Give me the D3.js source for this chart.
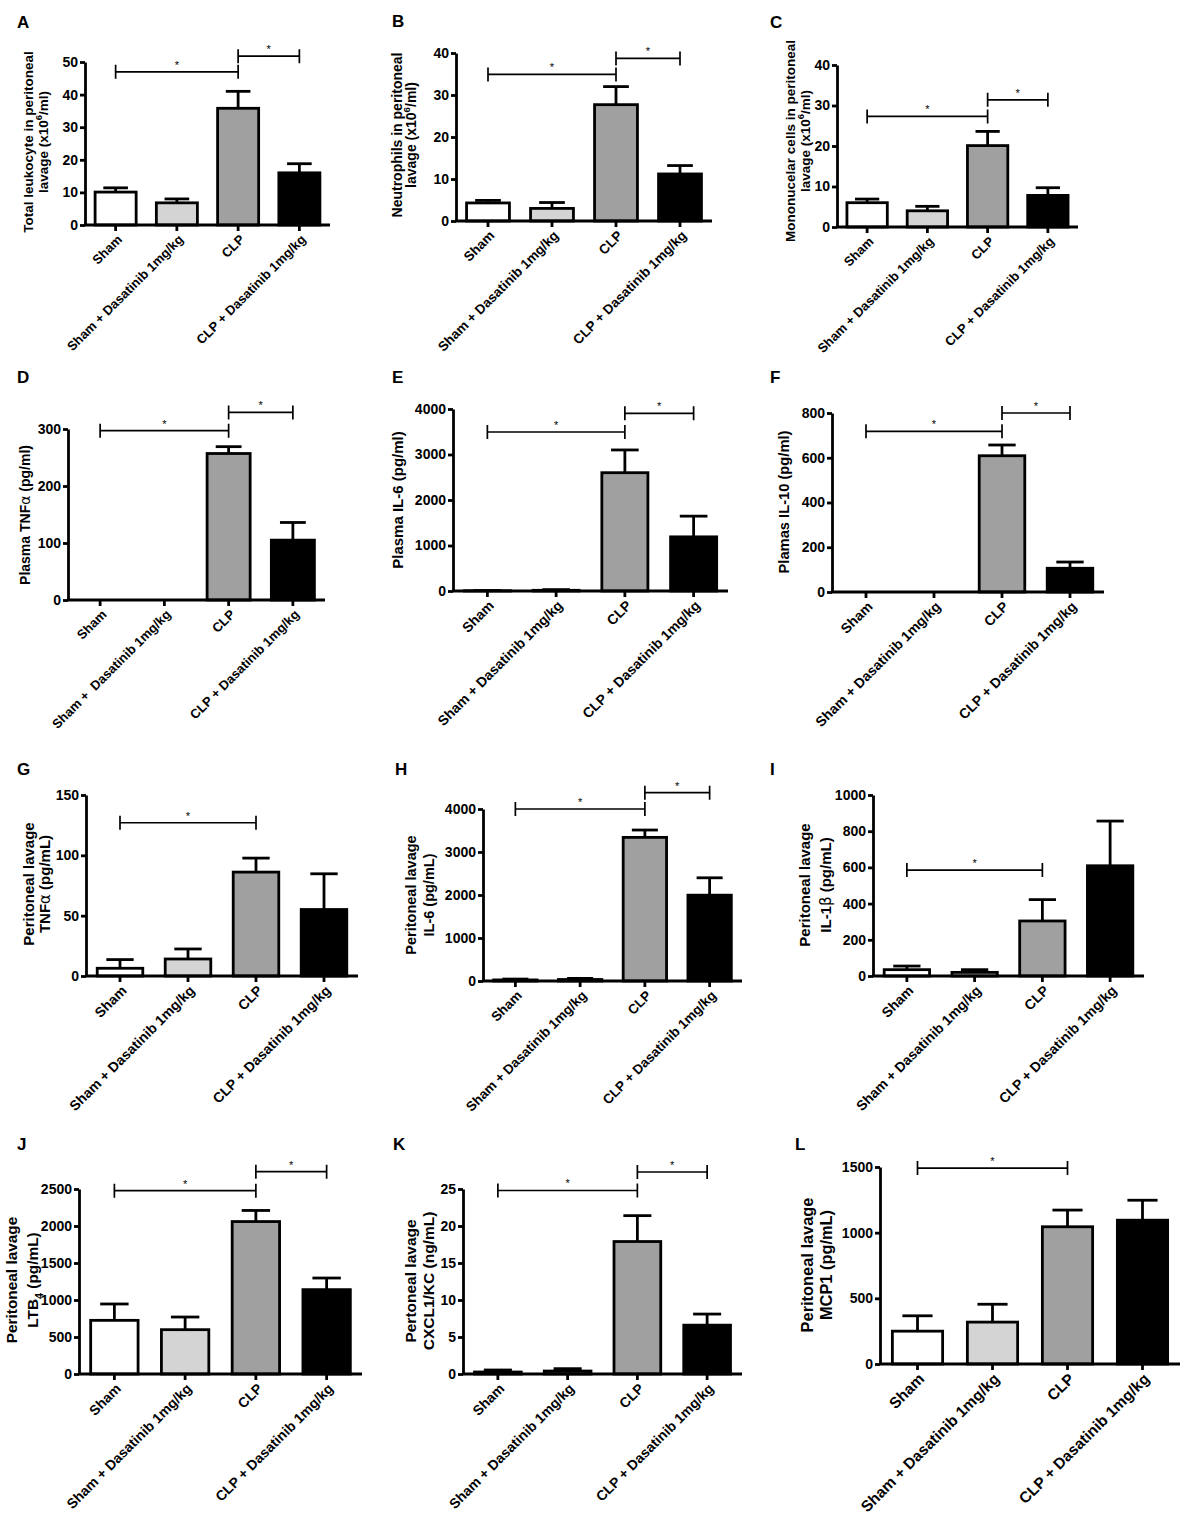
<!DOCTYPE html>
<html>
<head>
<meta charset="utf-8">
<script src="https://cdn.jsdelivr.net/npm/d3@7/dist/d3.min.js"></script>
<style>
body { margin: 0; background: #fff; }
svg { display: block; font-family: "Liberation Sans", Arial, sans-serif; }
</style>
</head>
<body>
<script>
// groups on the x axis
const groups = ["Sham", "Sham + Dasatinib 1mg/kg", "CLP", "CLP + Dasatinib 1mg/kg"];
const groupsD = ["Sham", "Sham +\u00a0 Dasatinib 1mg/kg", "CLP", "CLP + Dasatinib 1mg/kg"];
const fills = ["#ffffff", "#d4d4d4", "#a0a0a0", "#000000"];

// means and upper error (SEM) per panel
const leukocyte = [10.1, 6.8, 35.8, 16.0];
const leukocyteErr = [1.3, 1.2, 5.2, 2.8];
const neutrophils = [4.3, 3.0, 27.7, 11.2];
const neutrophilsErr = [0.6, 1.4, 4.3, 2.0];
const mononuclear = [6.0, 4.0, 20.1, 7.8];
const mononuclearErr = [0.9, 1.1, 3.5, 1.9];
const plasmaTnf = [0, 0, 257, 105];
const plasmaTnfErr = [0, 0, 12, 31];
const plasmaIl6 = [5, 15, 2600, 1190];
const plasmaIl6Err = [5, 15, 500, 455];
const plasmaIl10 = [0, 0, 609, 106];
const plasmaIl10Err = [0, 0, 48, 28];
const lavageTnf = [6.4, 14.1, 86.1, 55.1];
const lavageTnfErr = [7.2, 8.3, 11.6, 29.6];
const lavageIl6 = [25, 35, 3340, 1996];
const lavageIl6Err = [20, 25, 171, 404];
const lavageIl1b = [35, 20, 304, 609];
const lavageIl1bErr = [20, 15, 118, 247];
const lavageLtb4 = [725, 599, 2060, 1140];
const lavageLtb4Err = [221, 171, 150, 157];
const lavageKc = [0.27, 0.4, 17.9, 6.6];
const lavageKcErr = [0.27, 0.32, 3.5, 1.5];
const lavageMcp1 = [250, 319, 1045, 1095];
const lavageMcp1Err = [117, 136, 127, 152];

// significance brackets: [from group, to group, height]
const sigA = [[0, 2, 47.0], [2, 3, 51.8]];
const sigB = [[0, 2, 34.9], [2, 3, 38.7]];
const sigC = [[0, 2, 27.3], [2, 3, 31.4]];
const sigD = [[0, 2, 297], [2, 3, 329]];
const sigE = [[0, 2, 3494], [2, 3, 3905]];
const sigF = [[0, 2, 718], [2, 3, 800]];
const sigG = [[0, 2, 127]];
const sigH = [[0, 2, 4000], [2, 3, 4380]];
const sigI = [[0, 2, 585]];
const sigJ = [[0, 2, 2477], [2, 3, 2734]];
const sigK = [[0, 2, 24.8], [2, 3, 27.3]];
const sigL = [[0, 2, 1492]];

// y axis: [max, step]
const yTicksA = [50, 10], yTicksB = [40, 10], yTicksC = [40, 10];
const yTicksD = [300, 100], yTicksE = [4000, 1000], yTicksF = [800, 200];
const yTicksG = [150, 50], yTicksH = [4000, 1000], yTicksI = [1000, 200];
const yTicksJ = [2500, 500], yTicksK = [25, 5], yTicksL = [1500, 500];

// y axis titles (^ = superscript, _ = subscript)
const titleA = ["Total leukocyte in peritoneal", "lavage (x10^6/ml)"];
const titleB = ["Neutrophils in peritoneal", "lavage (x10^6/ml)"];
const titleC = ["Mononucelar cells in peritoneal", "lavage (x10^6/ml)"];
const titleD = ["Plasma TNFα (pg/ml)"];
const titleE = ["Plasma IL-6 (pg/ml)"];
const titleF = ["Plamas IL-10 (pg/ml)"];
const titleG = ["Peritoneal lavage", "TNFα  (pg/mL)"];
const titleH = ["Peritoneal lavage", "IL-6 (pg/mL)"];
const titleI = ["Peritoneal lavage", "IL-1β  (pg/mL)"];
const titleJ = ["Peritoneal lavage", "LTB_4 (pg/mL)"];
const titleK = ["Pertoneal lavage", "CXCL1/KC (ng/mL)"];
const titleL = ["Peritoneal lavage", "MCP1 (pg/mL)"];

const width = 1183;
const height = 1516;

let svg = d3.select('body')
            .append('svg')
            .attr('width', width)
            .attr('height', height);

svg.append('rect').attr('width', width).attr('height', height).attr('fill', '#fff');

// layout of each panel (pixel positions of the plot box, font sizes)
const panels = [
  {id: 'A', lx: 17, ly: 28, x0: 85, x1: 330, top: 62, y0: 225, ticks: yTicksA, mean: leukocyte, err: leukocyteErr, sig: sigA, title: titleA, off: [-57, -42], cy: 142, tfs: 13.5, xfs: 13, labels: groups},
  {id: 'B', lx: 392, ly: 27, x0: 456, x1: 712, top: 53, y0: 221, ticks: yTicksB, mean: neutrophils, err: neutrophilsErr, sig: sigB, title: titleB, off: [-59, -45], cy: 135, tfs: 14, xfs: 13.5, labels: groups},
  {id: 'C', lx: 770, ly: 28, x0: 837, x1: 1078, top: 65, y0: 227, ticks: yTicksC, mean: mononuclear, err: mononuclearErr, sig: sigC, title: titleC, off: [-47, -32], cy: 141, tfs: 13.5, xfs: 13, labels: groups},
  {id: 'D', lx: 17, ly: 383, x0: 68, x1: 325, top: 429, y0: 600, ticks: yTicksD, mean: plasmaTnf, err: plasmaTnfErr, sig: sigD, title: titleD, off: [-43], cy: 515, tfs: 14, xfs: 13, labels: groupsD},
  {id: 'E', lx: 392, ly: 383, x0: 453, x1: 728, top: 409, y0: 591, ticks: yTicksE, mean: plasmaIl6, err: plasmaIl6Err, sig: sigE, title: titleE, off: [-55], cy: 500, tfs: 15, xfs: 14, labels: groups},
  {id: 'F', lx: 770, ly: 383, x0: 832, x1: 1104, top: 413, y0: 592, ticks: yTicksF, mean: plasmaIl10, err: plasmaIl10Err, sig: sigF, title: titleF, off: [-48], cy: 502, tfs: 14.7, xfs: 14, labels: groups},
  {id: 'G', lx: 17, ly: 775, x0: 86, x1: 358, top: 795, y0: 976, ticks: yTicksG, mean: lavageTnf, err: lavageTnfErr, sig: sigG, title: titleG, off: [-57, -41], cy: 884, tfs: 15, xfs: 14, labels: groups},
  {id: 'H', lx: 395, ly: 775, x0: 483, x1: 742, top: 809, y0: 981, ticks: yTicksH, mean: lavageIl6, err: lavageIl6Err, sig: sigH, title: titleH, off: [-72, -54], cy: 895, tfs: 14.5, xfs: 13.5, labels: groups},
  {id: 'I', lx: 770, ly: 775, x0: 873, x1: 1144, top: 795, y0: 976, ticks: yTicksI, mean: lavageIl1b, err: lavageIl1bErr, sig: sigI, title: titleI, off: [-68, -47], cy: 885, tfs: 15, xfs: 14, labels: groups},
  {id: 'J', lx: 17, ly: 1150, x0: 79, x1: 362, top: 1189, y0: 1374, ticks: yTicksJ, mean: lavageLtb4, err: lavageLtb4Err, sig: sigJ, title: titleJ, off: [-67, -46], cy: 1280, tfs: 15.4, xfs: 14, labels: groups},
  {id: 'K', lx: 393, ly: 1150, x0: 463, x1: 742, top: 1189, y0: 1374, ticks: yTicksK, mean: lavageKc, err: lavageKcErr, sig: sigK, title: titleK, off: [-52, -34], cy: 1281, tfs: 15.5, xfs: 14, labels: groups},
  {id: 'L', lx: 795, ly: 1150, x0: 880, x1: 1180, top: 1167, y0: 1364, ticks: yTicksL, mean: lavageMcp1, err: lavageMcp1Err, sig: sigL, title: titleL, off: [-73, -54], cy: 1265, tfs: 16.4, xfs: 15.5, labels: groups}
];

// writes a string with ^sup, _sub and greek letters into a text element
function richText(sel, str, fs) {
  const parts = str.split(/(\^\d+|_\d+|[αβ])/).filter(s => s.length);
  let shift = 0;
  parts.forEach(s => {
    const t = sel.append('tspan');
    if (s[0] === '^') {
      t.attr('dy', -fs * 0.4 - shift).attr('font-size', fs * 0.7).text(s.slice(1));
      shift = -fs * 0.4;
    } else if (s[0] === '_') {
      t.attr('dy', fs * 0.3 - shift).attr('font-size', fs * 0.7).text(s.slice(1));
      shift = fs * 0.3;
    } else {
      if (shift) { t.attr('dy', -shift); shift = 0; }
      if (s === 'α' || s === 'β') t.attr('font-weight', 'normal').attr('font-family', 'DejaVu Sans');
      t.text(s);
    }
  });
}

function draw(p) {
  const g = svg.append('g');
  const x = d3.scaleBand().domain(d3.range(4)).range([p.x0, p.x1]).paddingInner(0.33).paddingOuter(0.165);
  const y = d3.scaleLinear().domain([0, p.ticks[0]]).range([p.y0, p.top]);
  const cx = i => x(i) + x.bandwidth() / 2;
  const cap = x.bandwidth() * 0.3;
  const sw = 2.8;

  // error bars (upper only)
  const eb = g.selectAll('.err').data(p.mean.map((m, i) => [m, p.err[i], i]).filter(d => d[1] > 0)).enter().append('g');
  eb.append('line').attr('x1', d => cx(d[2])).attr('x2', d => cx(d[2]))
    .attr('y1', d => y(d[0])).attr('y2', d => y(d[0] + d[1]))
    .attr('stroke', '#000').attr('stroke-width', sw);
  eb.append('line').attr('x1', d => cx(d[2]) - cap).attr('x2', d => cx(d[2]) + cap)
    .attr('y1', d => y(d[0] + d[1])).attr('y2', d => y(d[0] + d[1]))
    .attr('stroke', '#000').attr('stroke-width', sw);

  // bars
  g.selectAll('.bar').data(p.mean.map((m, i) => [m, i]).filter(d => d[0] > 0)).enter().append('rect')
    .attr('x', d => x(d[1])).attr('width', x.bandwidth())
    .attr('y', d => y(d[0])).attr('height', d => p.y0 - y(d[0]))
    .attr('fill', d => fills[d[1]]).attr('stroke', '#000').attr('stroke-width', sw);

  // y axis
  const yAxis = d3.axisLeft(y).tickValues(d3.range(0, p.ticks[0] + 1e-9, p.ticks[1]))
    .tickSize(5).tickSizeOuter(0).tickPadding(2).tickFormat(d3.format('d'));
  const ya = g.append('g').attr('transform', `translate(${p.x0},0)`).call(yAxis);
  ya.select('.domain').attr('stroke-width', sw);
  ya.selectAll('.tick line').attr('stroke-width', sw);
  ya.selectAll('.tick text').attr('font-size', 14).attr('font-weight', 'bold').attr('fill', '#000')
    .attr('font-family', '"Liberation Sans Narrow", "Liberation Sans", Arial, sans-serif');

  // x axis
  const xAxis = d3.axisBottom(x).tickSize(6).tickSizeOuter(0).tickFormat('');
  const xa = g.append('g').attr('transform', `translate(0,${p.y0})`).call(xAxis);
  xa.select('.domain').attr('stroke-width', sw).attr('d', `M${p.x0 - 1},0H${p.x1}`);
  xa.selectAll('.tick line').attr('stroke-width', sw);

  g.selectAll('.xl').data(p.labels).enter().append('text')
    .attr('transform', (d, i) => `translate(${cx(i) + 4},${p.y0 + 12}) rotate(-45)`)
    .attr('text-anchor', 'end').attr('dy', '0.35em')
    .attr('font-size', p.xfs).attr('font-weight', 'bold')
    .text(d => d);

  // significance brackets
  p.sig.forEach(s => {
    const xa0 = cx(s[0]), xb = cx(s[1]), yy = y(s[2]);
    g.append('path').attr('d', `M${xa0},${yy - 7}V${yy + 7}M${xa0},${yy}H${xb}M${xb},${yy - 7}V${yy + 7}`)
      .attr('stroke', '#000').attr('stroke-width', 1.7).attr('fill', 'none');
    g.append('text').attr('x', (xa0 + xb) / 2).attr('y', yy - 3)
      .attr('text-anchor', 'middle').attr('font-size', 11).text('*');
  });

  // y title
  p.title.forEach((line, i) => {
    const t = g.append('text')
      .attr('transform', `translate(${p.x0 + p.off[i]},${p.cy}) rotate(-90)`)
      .attr('text-anchor', 'middle').attr('dy', '0.35em')
      .attr('font-size', p.tfs).attr('font-weight', 'bold');
    richText(t, line, p.tfs);
  });

  // panel letter
  svg.append('text').attr('x', p.lx).attr('y', p.ly)
    .attr('font-size', 17).attr('font-weight', 'bold').text(p.id);
}

panels.forEach(draw);
</script>
</body>
</html>
